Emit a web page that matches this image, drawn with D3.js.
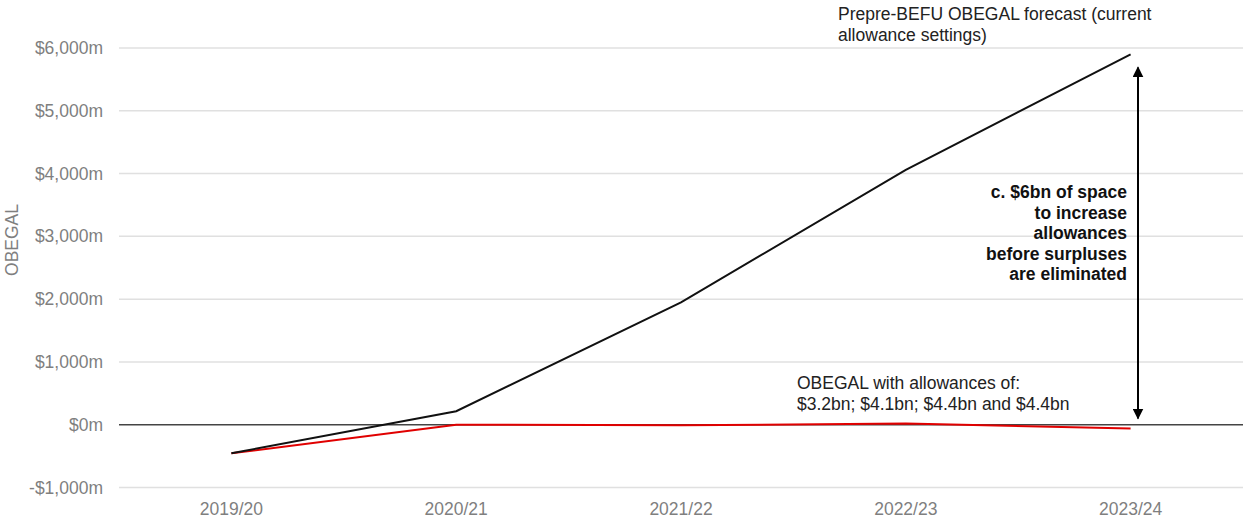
<!DOCTYPE html>
<html>
<head>
	<title>OBEGAL</title>
	<script src="https://cdn.jsdelivr.net/npm/d3@7"></script>
	<style>
	body { margin: 0; background: #fff; }
	text { font-family: "Liberation Sans", Arial, sans-serif; }
	</style>
</head>
<body>
</body>

<script type="text/javascript">

// data
const years = ["2019/20", "2020/21", "2021/22", "2022/23", "2023/24"]
const forecast = [-455, 215, 1950, 4060, 5900]
const withAllowances = [-455, 0, -10, 20, -60]
const yTicks = [-1000, 0, 1000, 2000, 3000, 4000, 5000, 6000]

const width = 1243
const height = 519
const fs = "17.5px"

const svg = d3.select("body").append("svg")
		.attr("width", width)
		.attr("height", height)

const x = d3.scaleBand()
		.domain(years)
		.range([119, 1243])

const y = d3.scaleLinear()
		.domain([-1000, 6000])
		.range([487.5, 48])

const xc = d => x(d) + x.bandwidth() / 2

// gridlines
svg.append("g")
	.selectAll("line")
	.data(yTicks.filter(d => d != 0))
	.enter()
	.append("line")
	.attr("x1", 119)
	.attr("x2", width)
	.attr("y1", d => y(d))
	.attr("y2", d => y(d))
	.attr("stroke", "#e0e0e0")
	.attr("stroke-width", 1.5)

// y axis labels
const yAxis = svg.append("g")
		.attr("transform", "translate(103,0)")
		.call(d3.axisLeft(y).tickValues(yTicks).tickSize(0).tickPadding(0)
			.tickFormat(d => (d < 0 ? "-" : "") + "$" + d3.format(",")(Math.abs(d)) + "m"))
yAxis.select(".domain").remove()
yAxis.selectAll("text")
	.attr("fill", "#7f7f7f")
	.style("font-size", fs)

// x axis labels
const xAxis = svg.append("g")
		.attr("transform", "translate(0,503)")
		.call(d3.axisBottom(x).tickSize(0).tickPadding(0))
xAxis.select(".domain").remove()
xAxis.selectAll("text")
	.attr("fill", "#7f7f7f")
	.attr("dy", "0.71em")
	.style("font-size", fs)

// y title
svg.append("text")
	.attr("transform", "translate(18," + 240 + ") rotate(-90)")
	.attr("text-anchor", "middle")
	.attr("fill", "#7f7f7f")
	.style("font-size", fs)
	.text("OBEGAL")

// zero line
svg.append("line")
	.attr("x1", 119)
	.attr("x2", width)
	.attr("y1", y(0))
	.attr("y2", y(0))
	.attr("stroke", "#444")
	.attr("stroke-width", 1.5)

const line = d3.line()
		.x((d, i) => xc(years[i]))
		.y(d => y(d))

svg.append("path")
	.attr("d", line(withAllowances))
	.attr("fill", "none")
	.attr("stroke", "#e00000")
	.attr("stroke-width", 2)

svg.append("path")
	.attr("d", line(forecast))
	.attr("fill", "none")
	.attr("stroke", "#111")
	.attr("stroke-width", 2)

// double arrow
const defs = svg.append("defs")
defs.append("marker")
	.attr("id", "head")
	.attr("viewBox", "0 0 10 10")
	.attr("refX", 9)
	.attr("refY", 5)
	.attr("markerWidth", 5.5)
	.attr("markerHeight", 5.5)
	.attr("orient", "auto-start-reverse")
	.append("path")
	.attr("d", "M0,0 L10,5 L0,10 z")
	.attr("fill", "#000")

svg.append("line")
	.attr("x1", 1138)
	.attr("x2", 1138)
	.attr("y1", y(5690))
	.attr("y2", y(100))
	.attr("stroke", "#000")
	.attr("stroke-width", 2)
	.attr("marker-start", "url(#head)")
	.attr("marker-end", "url(#head)")

// annotations
const note = svg.append("text")
		.attr("text-anchor", "end")
		.attr("fill", "#111")
		.style("font-size", fs)
		.style("font-weight", "bold")
const noteLines = ["c. $6bn of space", "to increase", "allowances", "before surpluses", "are eliminated"]
noteLines.forEach((t, i) => {
	note.append("tspan").attr("x", 1127).attr("y", 198 + i * 20.5).text(t)
})

const topNote = svg.append("text")
		.attr("fill", "#222")
		.style("font-size", fs)
topNote.append("tspan").attr("x", 838).attr("y", 20).text("Prepre-BEFU OBEGAL forecast (current")
topNote.append("tspan").attr("x", 838).attr("y", 41).text("allowance settings)")

const bottomNote = svg.append("text")
		.attr("fill", "#222")
		.style("font-size", fs)
bottomNote.append("tspan").attr("x", 797).attr("y", 389).text("OBEGAL with allowances of:")
bottomNote.append("tspan").attr("x", 797).attr("y", 410).text("$3.2bn; $4.1bn; $4.4bn and $4.4bn")

</script>
</html>
